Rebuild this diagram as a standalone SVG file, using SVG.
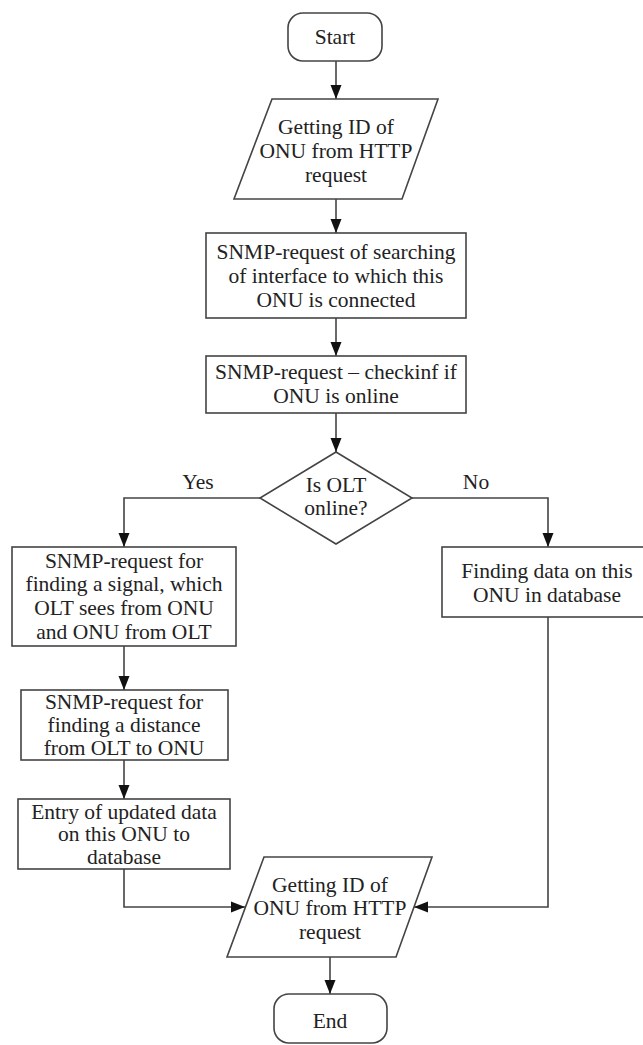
<svg xmlns="http://www.w3.org/2000/svg" width="643" height="1045" viewBox="0 0 643 1045">
<defs>
<marker id="ah" markerWidth="14" markerHeight="12" refX="14" refY="6" orient="auto" markerUnits="userSpaceOnUse">
<path d="M0,0.5 L14,6 L0,11.5 Z" fill="#111"/>
</marker>
<style>
.s{fill:#fff;stroke:#444;stroke-width:1.6}
.t{font-family:"Liberation Serif","Times New Roman",serif;font-size:21.5px;fill:#222;text-anchor:middle;dominant-baseline:central}
.c{fill:none;stroke:#444;stroke-width:1.6}
</style>
</defs>
<rect width="643" height="1045" fill="#fff"/>
<g id="connectors">
<path class="c" d="M336,61 V99" marker-end="url(#ah)"/>
<path class="c" d="M336,199 V233" marker-end="url(#ah)"/>
<path class="c" d="M336,318 V356" marker-end="url(#ah)"/>
<path class="c" d="M336,413 V452" marker-end="url(#ah)"/>
<path class="c" d="M260,498 H124 V547" marker-end="url(#ah)"/>
<path class="c" d="M412,498 H548 V547" marker-end="url(#ah)"/>
<path class="c" d="M124,646 V690" marker-end="url(#ah)"/>
<path class="c" d="M124,760 V799" marker-end="url(#ah)"/>
<path class="c" d="M124,869 V907 H245" marker-end="url(#ah)"/>
<path class="c" d="M548,617 V907 H414" marker-end="url(#ah)"/>
<path class="c" d="M330,957 V994" marker-end="url(#ah)"/>
<text class="t" x="198" y="482">Yes</text>
<text class="t" x="476" y="482">No</text>
</g>
<g id="start">
<rect class="s" x="288" y="13" width="94" height="48" rx="15"/>
<text class="t" x="335" y="37">Start</text>
</g>
<g id="input1">
<polygon class="s" points="272,99 438,99 402,199 234,199"/>
<text class="t" x="336" y="127">Getting ID of</text>
<text class="t" x="336" y="151">ONU from HTTP</text>
<text class="t" x="336" y="175">request</text>
</g>
<g id="search">
<rect class="s" x="206" y="233" width="260" height="85"/>
<text class="t" x="336" y="252">SNMP-request of searching</text>
<text class="t" x="336" y="276">of interface to which this</text>
<text class="t" x="336" y="300">ONU is connected</text>
</g>
<g id="check">
<rect class="s" x="206" y="356" width="260" height="57"/>
<text class="t" x="336" y="372">SNMP-request – checkinf if</text>
<text class="t" x="336" y="396">ONU is online</text>
</g>
<g id="decision">
<polygon class="s" points="336,452 412,498 336,544 260,498"/>
<text class="t" x="336" y="485">Is OLT</text>
<text class="t" x="336" y="508">online?</text>
</g>
<g id="signal">
<rect class="s" x="12" y="547" width="224" height="99"/>
<text class="t" x="124" y="561">SNMP-request for</text>
<text class="t" x="124" y="584">finding a signal, which</text>
<text class="t" x="124" y="608">OLT sees from ONU</text>
<text class="t" x="124" y="632">and ONU from OLT</text>
</g>
<g id="distance">
<rect class="s" x="21" y="690" width="207" height="70"/>
<text class="t" x="124" y="702">SNMP-request for</text>
<text class="t" x="124" y="725">finding a distance</text>
<text class="t" x="124" y="748">from OLT to ONU</text>
</g>
<g id="entry">
<rect class="s" x="18" y="799" width="212" height="70"/>
<text class="t" x="124" y="812">Entry of updated data</text>
<text class="t" x="124" y="834">on this ONU to</text>
<text class="t" x="124" y="857">database</text>
</g>
<g id="finding">
<rect class="s" x="442" y="547" width="210" height="70"/>
<text class="t" x="547" y="571">Finding data on this</text>
<text class="t" x="547" y="595">ONU in database</text>
</g>
<g id="input2">
<polygon class="s" points="264,857 432,857 396,957 227,957"/>
<text class="t" x="330" y="885">Getting ID of</text>
<text class="t" x="330" y="908">ONU from HTTP</text>
<text class="t" x="330" y="932">request</text>
</g>
<g id="end">
<rect class="s" x="274" y="994" width="113" height="49" rx="15"/>
<text class="t" x="330" y="1021">End</text>
</g>
</svg>
